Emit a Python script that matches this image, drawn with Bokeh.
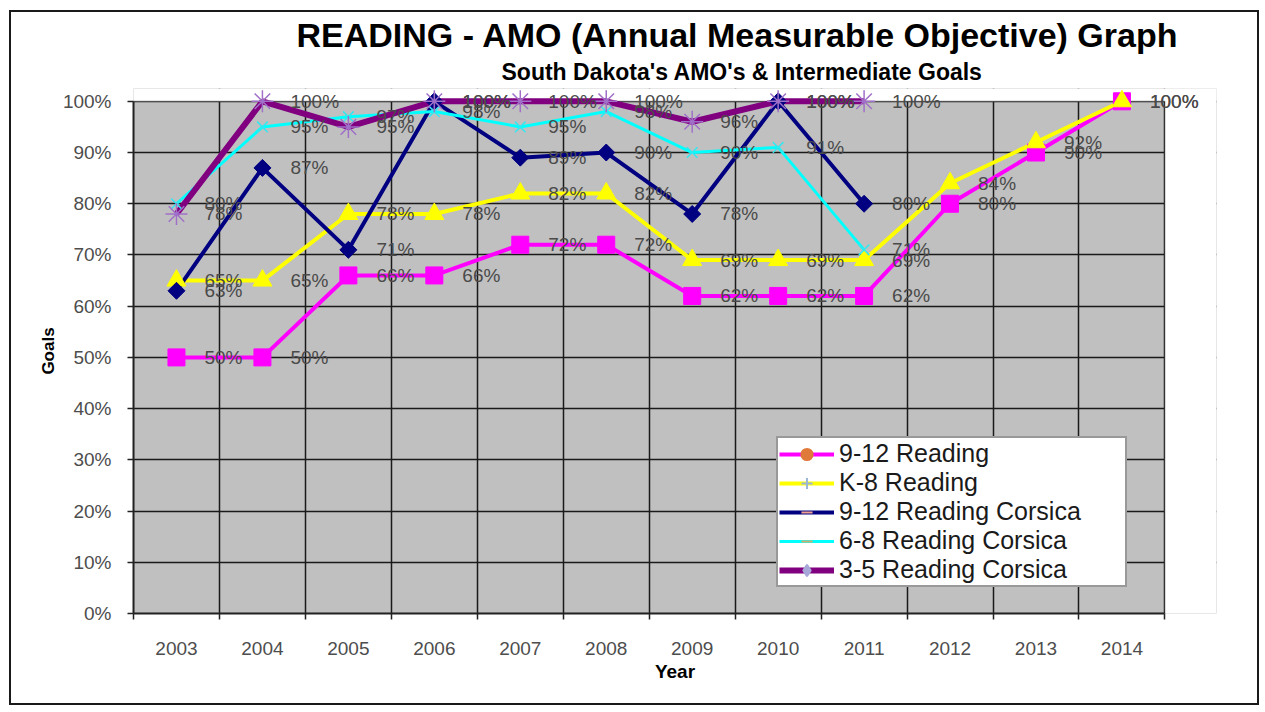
from bokeh.plotting import figure
from bokeh.models import (Range1d, FixedTicker, ColumnDataSource, Label,
                          Legend, LegendItem, Title, BoxAnnotation)
from bokeh.embed import file_html
from bokeh.resources import INLINE

# ---------------- data ----------------
years = ["2003", "2004", "2005", "2006", "2007", "2008",
         "2009", "2010", "2011", "2012", "2013", "2014"]
reading_9_12 = [50, 50, 66, 66, 72, 72, 62, 62, 62, 80, 90, 100]
reading_k8 = [65, 65, 78, 78, 82, 82, 69, 69, 69, 84, 92, 100]
corsica_9_12 = [63, 87, 71, 100, 89, 90, 78, 100, 80]
corsica_6_8 = [80, 95, 97, 98, 95, 98, 90, 91, 71]
corsica_3_5 = [78, 100, 95, 100, 100, 100, 96, 100, 100]
series_names = ["9-12 Reading", "K-8 Reading", "9-12 Reading Corsica",
                "6-8 Reading Corsica", "3-5 Reading Corsica"]
y_ticks = list(range(0, 101, 10))
y_tick_labels = [f"{t}%" for t in y_ticks]
Y_MIN, Y_MAX = 0, 100

FONT = "Liberation Sans"

# ---------------- styles ----------------
styles = [
    dict(color="#FF00FF", width=4, marker="square", size=17, fill="#FF00FF",
         mline="#FF00FF", angle=0.0, mlw=1,
         lg_marker="circle", lg_fill="#E07A3A", lg_line="#E07A3A"),
    dict(color="#FFFF00", width=4, marker="triangle", size=19, fill="#FFFF00",
         mline="#FFFF00", angle=0.0, mlw=1,
         lg_marker="cross", lg_fill="#9BB7D8", lg_line="#9BB7D8"),
    dict(color="#000080", width=4, marker="square", size=12, fill="#000080",
         mline="#000080", angle=0.785398, mlw=1,
         lg_marker="dash", lg_fill="#F0A090", lg_line="#F0A090"),
    dict(color="#00FFFF", width=3, marker="x", size=15, fill="#00FFFF",
         mline="#33E6F0", angle=0.0, mlw=1.5,
         lg_marker="dash", lg_fill="#C8B070", lg_line="#C8B070"),
    dict(color="#800080", width=6, marker="asterisk", size=22, fill="#A070C8",
         mline="#A070C8", angle=0.0, mlw=1.5,
         lg_marker="diamond", lg_fill="#A8A8D8", lg_line="#A8A8D8"),
]
all_values = [reading_9_12, reading_k8, corsica_9_12, corsica_6_8, corsica_3_5]

# ---------------- figure ----------------
# head-room above 100% and right of the last year so that markers and
# data labels there are not clipped by the frame
HEAD_Y = 2.5
PAD_X = 0.6
X_MIN, X_MAX = -0.5, len(years) - 0.5
p = figure(width=1250, height=695, output_backend="svg", toolbar_location=None,
           x_range=Range1d(X_MIN, X_MAX + PAD_X),
           y_range=Range1d(Y_MIN, Y_MAX + HEAD_Y),
           min_border_left=122, min_border_right=45, min_border_top=76,
           min_border_bottom=94, title=None)
p.styles = {"border": "2px solid #1a1a1a", "margin": "10px 0 0 9px"}
p.background_fill_color = "#C0C0C0"
p.border_fill_color = "white"
p.outline_line_color = None

# white covers over the padding strips (drawn above the grid, below glyphs)
p.add_layout(BoxAnnotation(bottom=Y_MAX, fill_color="white", fill_alpha=1.0,
                           line_color=None, level="underlay"))
p.add_layout(BoxAnnotation(left=X_MAX, fill_color="white", fill_alpha=1.0,
                           line_color=None, level="underlay"))
# plot-area outline
p.add_layout(BoxAnnotation(bottom=Y_MIN, top=Y_MAX, left=X_MIN, right=X_MAX,
                           fill_alpha=0.0, line_color="#444444",
                           line_width=1.5, level="underlay"))

sub = Title(text="South Dakota's AMO's & Intermediate Goals", align="left",
            offset=368, text_font_size="23px", text_font_style="bold",
            text_font=FONT, text_color="black", standoff=7)
p.add_layout(sub, "above")
main = Title(text="READING - AMO (Annual Measurable Objective) Graph", align="left",
             offset=163, text_font_size="34px", text_font_style="bold",
             text_font=FONT, text_color="black", standoff=0)
p.add_layout(main, "above")

# axes
xt = FixedTicker(ticks=list(range(len(years))),
                 minor_ticks=[i - 0.5 for i in range(len(years) + 1)])
p.xaxis.ticker = xt
p.xaxis.bounds = (X_MIN, X_MAX)
p.xaxis.major_label_overrides = {i: y for i, y in enumerate(years)}
p.xaxis.major_tick_out = 0
p.xaxis.major_tick_in = 0
p.xaxis.minor_tick_out = 6
p.xaxis.minor_tick_in = 0
p.xaxis.minor_tick_line_color = "#222222"
p.xaxis.minor_tick_line_width = 1.5
p.xaxis.major_label_standoff = 22
p.xaxis.axis_label = "Year"
p.xaxis.axis_label_standoff = 3

p.yaxis.ticker = FixedTicker(ticks=y_ticks, minor_ticks=[])
p.yaxis.bounds = (Y_MIN, Y_MAX)
p.yaxis.major_label_overrides = dict(zip(y_ticks, y_tick_labels))
p.yaxis.major_tick_out = 6
p.yaxis.major_tick_in = 0
p.yaxis.major_label_standoff = 16
p.yaxis.axis_label = "Goals"
p.yaxis.axis_label_standoff = 2

for ax in (p.xaxis, p.yaxis):
    ax.axis_line_color = "#222222"
    ax.axis_line_width = 2
    ax.major_tick_line_color = "#222222"
    ax.major_tick_line_width = 1.5
    ax.major_label_text_font = FONT
    ax.major_label_text_font_size = "19px"
    ax.major_label_text_color = "#4d4d4d"
    ax.axis_label_text_font = FONT
    ax.axis_label_text_font_style = "bold"
    ax.axis_label_text_color = "black"
p.xaxis.axis_label_text_font_size = "19px"
p.yaxis.axis_label_text_font_size = "17px"

p.xgrid.grid_line_color = None
p.xgrid.minor_grid_line_color = "#1a1a1a"
p.xgrid.minor_grid_line_width = 1.5
p.ygrid.grid_line_color = "#1a1a1a"
p.ygrid.grid_line_width = 1.5

# sources
sources = []
for vals in all_values:
    sources.append(ColumnDataSource(dict(
        x=list(range(len(vals))), y=vals, label=[f"{v}%" for v in vals])))

# lines first, then markers (like Excel)
for src, st in zip(sources, styles):
    p.line("x", "y", source=src, line_color=st["color"], line_width=st["width"])
for src, st in zip(sources, styles):
    p.scatter("x", "y", source=src, marker=st["marker"], size=st["size"],
              fill_color=st["fill"], line_color=st["mline"], angle=st["angle"],
              line_width=st["mlw"])

# data labels
for vals in all_values:
    for i, v in enumerate(vals):
        p.add_layout(Label(x=i, y=v, text=f"{v}%", x_offset=28, y_offset=0,
                           text_baseline="middle", text_align="left",
                           text_font=FONT, text_font_size="19px",
                           text_color="#4a4a4a"))

# legend with hidden renderers (legend-only styling)
items = []
for name, st, src in zip(series_names, styles, sources):
    lr = p.line("x", "y", source=src, line_color=st["color"],
                line_width=st["width"], visible=False)
    sr = p.scatter("x", "y", source=src, marker=st["lg_marker"], size=10,
                   fill_color=st["lg_fill"], line_color=st["lg_line"],
                   line_width=2, visible=False)
    items.append(LegendItem(label=name, renderers=[lr, sr]))
legend = Legend(items=items, location=(643, 26), orientation="vertical",
                label_text_font=FONT, label_text_font_size="25px",
                label_text_color="#1a1a1a", glyph_width=55, glyph_height=28,
                label_height=28, label_width=285, label_standoff=5,
                padding=1, spacing=0, margin=0,
                inactive_fill_alpha=0.0,
                border_line_color="#333333", border_line_width=2,
                background_fill_color="white", background_fill_alpha=1.0)
p.add_layout(legend, "center")

open("out.html", "w").write(file_html(p, INLINE))
